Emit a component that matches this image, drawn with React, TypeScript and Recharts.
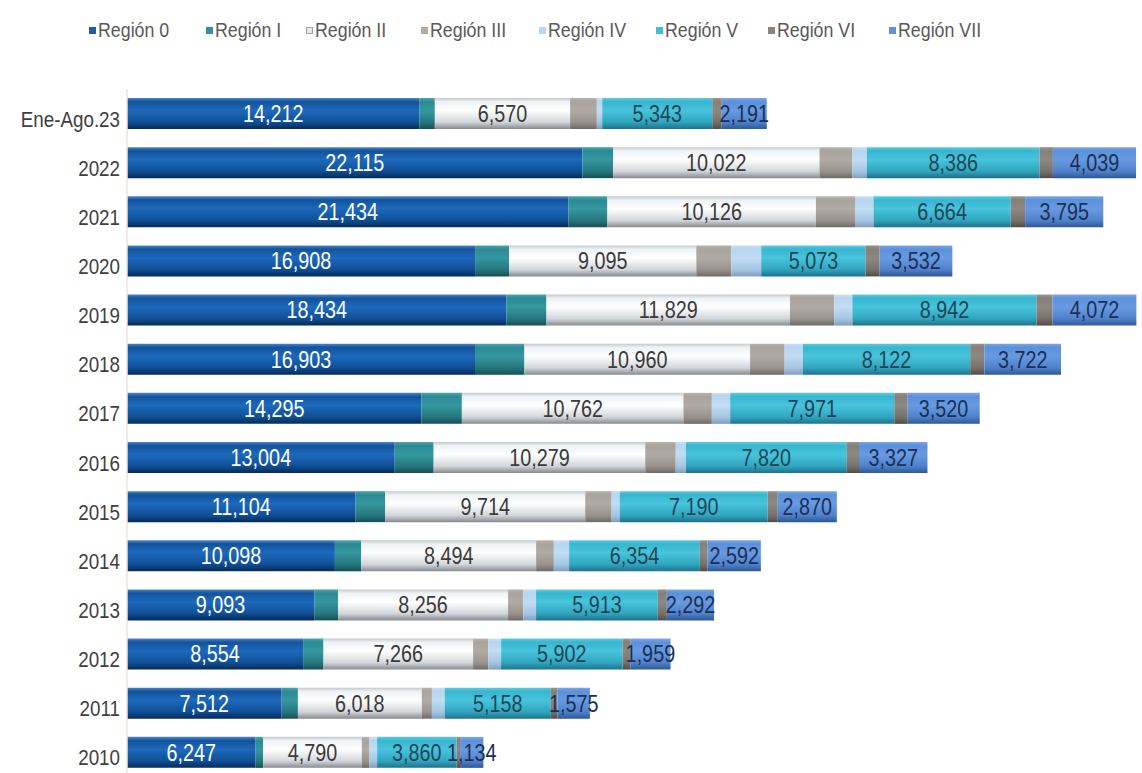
import React from 'react';
import { BarChart, Bar, XAxis, YAxis, LabelList } from 'recharts';

const categories = ['Ene-Ago.23', '2022', '2021', '2020', '2019', '2018', '2017', '2016', '2015', '2014', '2013', '2012', '2011', '2010'];

// values read off the picture; unlabelled regions are estimated from segment widths
const region0 = [14212, 22115, 21434, 16908, 18434, 16903, 14295, 13004, 11104, 10098, 9093, 8554, 7512, 6247];
const region1 = [740, 1500, 1900, 1650, 1940, 2400, 1970, 1890, 1440, 1280, 1160, 990, 790, 370];
const region2 = [6570, 10022, 10126, 9095, 11829, 10960, 10762, 10279, 9714, 8494, 8256, 7266, 6018, 4790];
const region3 = [1300, 1600, 1900, 1700, 2150, 1680, 1380, 1480, 1280, 860, 740, 740, 490, 370];
const region4 = [260, 700, 900, 1450, 880, 890, 890, 490, 390, 740, 620, 620, 620, 370];
const region5 = [5343, 8386, 6664, 5073, 8942, 8122, 7971, 7820, 7190, 6354, 5913, 5902, 5158, 3860];
const region6 = [460, 650, 700, 680, 780, 690, 630, 590, 490, 370, 440, 370, 320, 170];
const region7 = [2191, 4039, 3795, 3532, 4072, 3722, 3520, 3327, 2870, 2592, 2292, 1959, 1575, 1134];

const seriesNames = ['Región 0', 'Región I', 'Región II', 'Región III', 'Región IV', 'Región V', 'Región VI', 'Región VII'];
const seriesValues = [region0, region1, region2, region3, region4, region5, region6, region7];

// [top edge, upper, middle, lower, bottom edge]
const gradients = [
  ['#4a86c8', '#13539c', '#1d69bc', '#104f95', '#062a57'],
  ['#4aa7ae', '#2b8a94', '#3597a0', '#26777f', '#174d53'],
  ['#c4c9cd', '#eef2f5', '#ffffff', '#d2d6da', '#868a8e'],
  ['#b8b3ab', '#a8a39c', '#b0aba4', '#98938c', '#6f6a64'],
  ['#c8e0f4', '#b5d5f0', '#c2ddf4', '#a5c5e2', '#7f9fbd'],
  ['#5ccbe0', '#38b6cf', '#48c4dc', '#31a5bf', '#1f7189'],
  ['#9a948e', '#857f79', '#8e8882', '#77716b', '#514b46'],
  ['#7aa8e6', '#5c90da', '#679ae0', '#4f82cb', '#2f5794'],
];
const legendColors = ['#1a5fa8', '#3390a0', '#e6eaee', '#b1aca6', '#bcd7ef', '#42bcd4', '#8a847e', '#5f93dc'];
const legendLeft = [89, 206, 306, 421, 539, 656, 768, 889];
const labelColors = ['#ffffff', null, '#3a3a3a', null, null, '#1d4656', null, '#1b2f57'];

const data = categories.map((cat, i) => {
  const row: Record<string, string | number> = { cat };
  seriesNames.forEach((name, s) => {
    row[name] = seriesValues[s][i];
  });
  return row;
});

// no narrow font installed, so Liberation Sans gets squeezed horizontally
const FONT = '"Liberation Sans", Arial, sans-serif';

const fmt = (v: any) => Number(v).toLocaleString('en-US');

const YTick = (props: any) => {
  const { x, y, payload } = props;
  return (
    <text
      transform={`translate(${x},${y + 13}) scale(0.94,1.08)`}
      textAnchor="end"
      fill="#3f3f3f"
      fontSize={20}
      fontFamily={FONT}
    >
      {payload.value}
    </text>
  );
};

const makeLabel = (color: string) => (props: any) => {
  const { x, y, width, height, value } = props;
  const cx = Number(x) + Number(width) / 2;
  const cy = Number(y) + Number(height) / 2;
  return (
    <text
      transform={`translate(${cx},${cy}) scale(0.9,1.05)`}
      dy="0.36em"
      textAnchor="middle"
      fill={color}
      fontSize={22}
      fontFamily={FONT}
    >
      {fmt(value)}
    </text>
  );
};

const LegendRow = () => (
  <div style={{ position: 'absolute', left: 0, top: 0, fontFamily: FONT, fontSize: 20, color: '#595959' }}>
    {seriesNames.map((name, i) => (
      <div key={name} style={{ position: 'absolute', left: legendLeft[i], top: 18, height: 24, whiteSpace: 'nowrap' }}>
        <span
          style={{
            position: 'absolute',
            left: 0,
            top: 9,
            width: 7,
            height: 7,
            background: legendColors[i],
            border: i === 2 ? '1px solid #a0a4a8' : 'none',
            boxSizing: 'border-box',
          }}
        />
        <span
          style={{
            position: 'absolute',
            left: 9,
            top: 0,
            lineHeight: '24px',
            transform: 'scaleX(0.89)',
            transformOrigin: 'left center',
          }}
        >
          {name}
        </span>
      </div>
    ))}
  </div>
);

export default function App() {
  return (
    <div style={{ position: 'absolute', left: 0, top: 0, width: 1142, height: 773, overflow: 'hidden', background: '#fff' }}>
      <LegendRow />
      <BarChart
        width={1142}
        height={780}
        data={data}
        layout="vertical"
        margin={{ top: 89, right: 0, bottom: 3, left: 0 }}
        barSize={31}
      >
        <defs>
          {gradients.map((g, i) => (
            <linearGradient key={i} id={`grad${i}`} x1="0" y1="0" x2="0" y2="1">
              <stop offset="0%" stopColor={g[0]} />
              <stop offset="12%" stopColor={g[1]} />
              <stop offset="40%" stopColor={g[2]} />
              <stop offset="78%" stopColor={g[3]} />
              <stop offset="100%" stopColor={g[4]} />
            </linearGradient>
          ))}
        </defs>
        <XAxis type="number" domain={[0, 49300]} allowDataOverflow hide />
        <YAxis
          type="category"
          dataKey="cat"
          width={127}
          tickSize={0}
          tickMargin={7}
          tickLine={false}
          axisLine={{ stroke: '#efe4d8', strokeWidth: 1.5 }}
          tick={<YTick />}
          interval={0}
        />
        {seriesNames.map((name, i) => (
          <Bar key={name} dataKey={name} stackId="a" fill={`url(#grad${i})`} isAnimationActive={false}>
            {labelColors[i] && <LabelList dataKey={name} content={makeLabel(labelColors[i] as string)} />}
          </Bar>
        ))}
      </BarChart>
    </div>
  );
}
